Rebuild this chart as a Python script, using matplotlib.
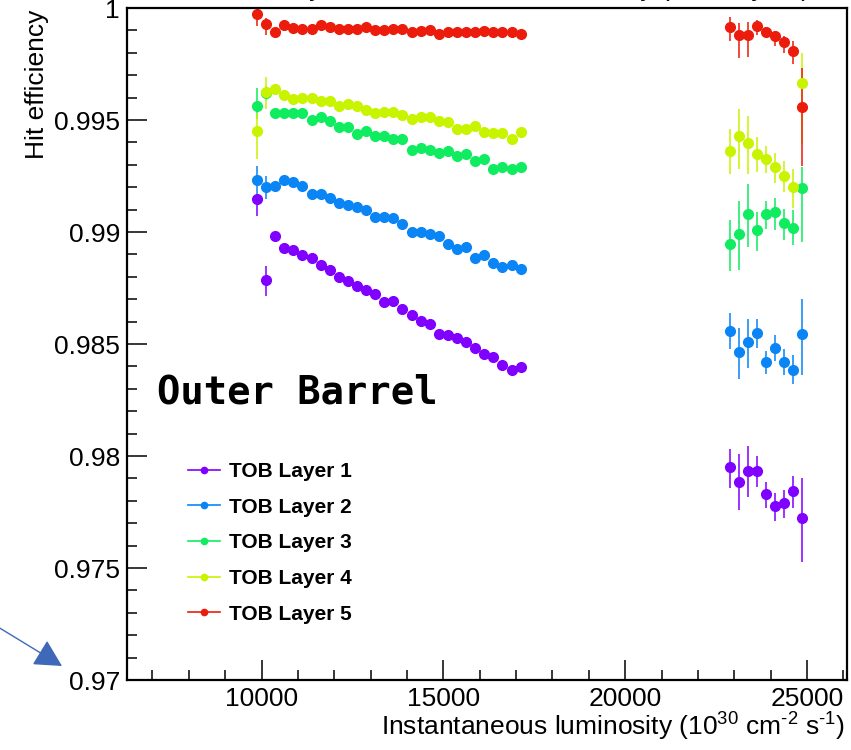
import numpy as np
import matplotlib
matplotlib.use('Agg')
import matplotlib.pyplot as plt
from matplotlib.lines import Line2D
from matplotlib.patches import FancyArrowPatch
from matplotlib.ticker import MultipleLocator, FixedLocator, FuncFormatter

plt.rcParams['font.family'] = ['Liberation Sans', 'DejaVu Sans']
plt.rcParams['mathtext.default'] = 'regular'

# luminosity bins (1e30 cm^-2 s^-1)
x_a = [9875, 10125, 10375, 10625, 10875, 11125, 11375, 11625, 11875, 12125,
       12375, 12625, 12875, 13125, 13375, 13625, 13875, 14125, 14375, 14625,
       14875, 15125, 15375, 15625, 15875, 16125, 16375, 16625, 16875, 17125]
x_b = [22875, 23125, 23375, 23625, 23875, 24125, 24375, 24625, 24875]

labels = ['TOB Layer 1', 'TOB Layer 2', 'TOB Layer 3', 'TOB Layer 4', 'TOB Layer 5']
colors = ['#8000ff', '#0a85f5', '#10ec60', '#c8f400', '#ec1c0c']

# efficiencies
eff1_a = [0.99148, 0.98784, 0.98982, 0.98930, 0.98921, 0.98896, 0.98886, 0.98851, 0.98832, 0.98801,
          0.98781, 0.98759, 0.98741, 0.98722, 0.98689, 0.98691, 0.98655, 0.98630, 0.98601, 0.98589,
          0.98543, 0.98538, 0.98529, 0.98509, 0.98481, 0.98454, 0.98440, 0.98405, 0.98384, 0.98399]
eff1_b = [0.97951, 0.97886, 0.97932, 0.97932, 0.97832, 0.97777, 0.97788, 0.97843, 0.97721]
eff2_a = [0.99232, 0.99203, 0.99207, 0.99232, 0.99222, 0.99207, 0.99171, 0.99171, 0.99152, 0.99131,
          0.99121, 0.99112, 0.99096, 0.99067, 0.99067, 0.99063, 0.99036, 0.99002, 0.99002, 0.98991,
          0.98980, 0.98945, 0.98926, 0.98932, 0.98883, 0.98896, 0.98862, 0.98843, 0.98851, 0.98835]
eff2_b = [0.98558, 0.98464, 0.98509, 0.98549, 0.98420, 0.98480, 0.98420, 0.98384, 0.98543]
eff3_a = [0.99564, 0.99620, 0.99531, 0.99531, 0.99531, 0.99531, 0.99502, 0.99512, 0.99497, 0.99469,
          0.99469, 0.99438, 0.99451, 0.99429, 0.99429, 0.99417, 0.99414, 0.99366, 0.99377, 0.99366,
          0.99351, 0.99362, 0.99339, 0.99347, 0.99316, 0.99325, 0.99280, 0.99290, 0.99280, 0.99290]
eff3_b = [0.98945, 0.98993, 0.99079, 0.99008, 0.99079, 0.99091, 0.99040, 0.99020, 0.99195]
eff4_a = [0.99450, 0.99624, 0.99637, 0.99612, 0.99594, 0.99597, 0.99597, 0.99584, 0.99584, 0.99563,
          0.99570, 0.99563, 0.99543, 0.99533, 0.99537, 0.99537, 0.99522, 0.99503, 0.99513, 0.99515,
          0.99496, 0.99491, 0.99462, 0.99459, 0.99471, 0.99446, 0.99444, 0.99441, 0.99417, 0.99448]
eff4_b = [0.99362, 0.99427, 0.99397, 0.99347, 0.99326, 0.99290, 0.99250, 0.99201, 0.99663]
eff5_a = [0.99973, 0.99930, 0.99892, 0.99924, 0.99912, 0.99908, 0.99908, 0.99924, 0.99914, 0.99908,
          0.99908, 0.99908, 0.99914, 0.99902, 0.99902, 0.99908, 0.99908, 0.99895, 0.99898, 0.99901,
          0.99884, 0.99895, 0.99895, 0.99891, 0.99891, 0.99898, 0.99895, 0.99895, 0.99895, 0.99884]
eff5_b = [0.99914, 0.99879, 0.99879, 0.99921, 0.99895, 0.99877, 0.99846, 0.99808, 0.99558]

# asymmetric errors, units of 1e-4 (low side, high side)
# first cluster: only the first two bins stick out of the markers
lo1_a = [7.6, 7.1] + [0.6] * 28
hi1_a = [1.8, 6.2] + [0.6] * 28
lo2_a = [6.7, 5.4] + [0.6] * 28
hi2_a = [6.2, 4.9] + [0.6] * 28
lo3_a = [5.8, 3.0] + [0.6] * 28
hi3_a = [8.0, 3.0] + [0.6] * 28
lo4_a = [12.5, 7.6] + [0.6] * 28
hi4_a = [8.0, 6.7] + [0.6] * 28
lo5_a = [5.4, 4.9] + [0.5] * 28
hi5_a = [2.2, 2.7] + [0.5] * 28

lo1_b = [9.4, 12.5, 11.6, 7.1, 6.2, 6.7, 6.7, 7.6, 19.6]
hi1_b = [8.0, 12.1, 11.2, 6.7, 5.4, 5.8, 5.8, 6.7, 18.3]
lo2_b = [8.0, 12.1, 11.6, 6.7, 5.4, 5.4, 5.8, 6.2, 18.3]
hi2_b = [8.0, 10.7, 10.3, 6.2, 4.9, 5.8, 5.8, 6.7, 15.6]
lo3_b = [12.1, 16.1, 14.7, 9.4, 6.7, 8.0, 7.6, 8.0, 24.1]
hi3_b = [10.7, 14.7, 13.4, 8.0, 5.8, 6.2, 6.2, 8.0, 9.4]
lo4_b = [10.3, 14.7, 13.8, 8.0, 6.2, 7.1, 7.1, 9.4, 26.8]
hi4_b = [9.8, 12.1, 12.1, 7.6, 5.8, 6.2, 6.7, 8.0, 13.8]
lo5_b = [6.2, 10.3, 9.8, 4.0, 3.1, 4.5, 4.5, 5.8, 26.3]
hi5_b = [4.5, 5.4, 5.8, 2.7, 2.2, 2.2, 3.1, 4.5, 17.4]

series = [
    (eff1_a + eff1_b, lo1_a + lo1_b, hi1_a + hi1_b),
    (eff2_a + eff2_b, lo2_a + lo2_b, hi2_a + hi2_b),
    (eff3_a + eff3_b, lo3_a + lo3_b, hi3_a + hi3_b),
    (eff4_a + eff4_b, lo4_a + lo4_b, hi4_a + hi4_b),
    (eff5_a + eff5_b, lo5_a + lo5_b, hi5_a + hi5_b),
]
xs = x_a + x_b

fig = plt.figure(figsize=(8.51, 7.5), dpi=100)
ax = fig.add_axes([127 / 851, 70 / 750, 720 / 851, 672 / 750])

for (eff, lo, hi), c in zip(series, colors):
    yerr = [np.array(lo) * 1e-4, np.array(hi) * 1e-4]
    eb = ax.errorbar(xs, eff, yerr=yerr, fmt='o', color=c, ms=7, mec=c,
                     elinewidth=1.4, capsize=0, ecolor=c)
    eb[2][0].set_alpha(0.8)

ax.set_xlim(6300, 26100)
ax.set_ylim(0.97, 1.0)
ax.xaxis.set_major_locator(FixedLocator([10000, 15000, 20000, 25000]))
ax.xaxis.set_minor_locator(MultipleLocator(1000))
ax.yaxis.set_major_locator(MultipleLocator(0.005))
ax.yaxis.set_minor_locator(MultipleLocator(0.001))
ax.yaxis.set_major_formatter(FuncFormatter(lambda v, p: '%g' % round(v, 4)))
ax.tick_params(which='major', direction='in', length=14.5, width=1.1, labelsize=19, pad=5)
ax.tick_params(which='minor', direction='in', length=7.5, width=1.1)
ax.tick_params(top=False, right=False, which='both')
for s in ax.spines.values():
    s.set_linewidth(1.6)

fig.text(37 / 851, 1 - 10 / 750, 'Hit efficiency', rotation=90, ha='center', va='top', fontsize=19)
fig.text(845 / 851, 1 - 736 / 750,
         'Instantaneous luminosity (10$^{30}$ cm$^{\u2010 2}$ s$^{\u2010 1}$)',
         ha='right', va='baseline', fontsize=19)
# title of the original plot, cut off at the top edge
fig.text(492 / 851, 1 + 4 / 750, 'Hit efficiency vs instantaneous luminosity (TOB layers)',
         ha='center', va='baseline', fontsize=19)

fig.text(157 / 851, 1 - 403 / 750, 'Outer Barrel', family='DejaVu Sans Mono',
         weight='bold', fontsize=28, va='baseline')

handles = [Line2D([], [], color=c, marker='o', ms=4.5, lw=1.2) for c in colors]
ax.legend(handles, labels, loc='upper left', bbox_to_anchor=(188 / 851, 1 - 462 / 750),
          bbox_transform=fig.transFigure, frameon=False,
          prop={'weight': 'bold', 'size': 15}, handlelength=1.55, handletextpad=0.4,
          labelspacing=0.8, borderpad=0, borderaxespad=0)

arrow = FancyArrowPatch((-2 / 851, 1 - 627 / 750), (62 / 851, 1 - 666 / 750),
                        transform=fig.transFigure,
                        arrowstyle='-|>,head_length=0.85,head_width=0.45',
                        mutation_scale=20, color='#4068b8', lw=1, shrinkA=0, shrinkB=0)
fig.add_artist(arrow)

fig.savefig('out.png', dpi=100)
